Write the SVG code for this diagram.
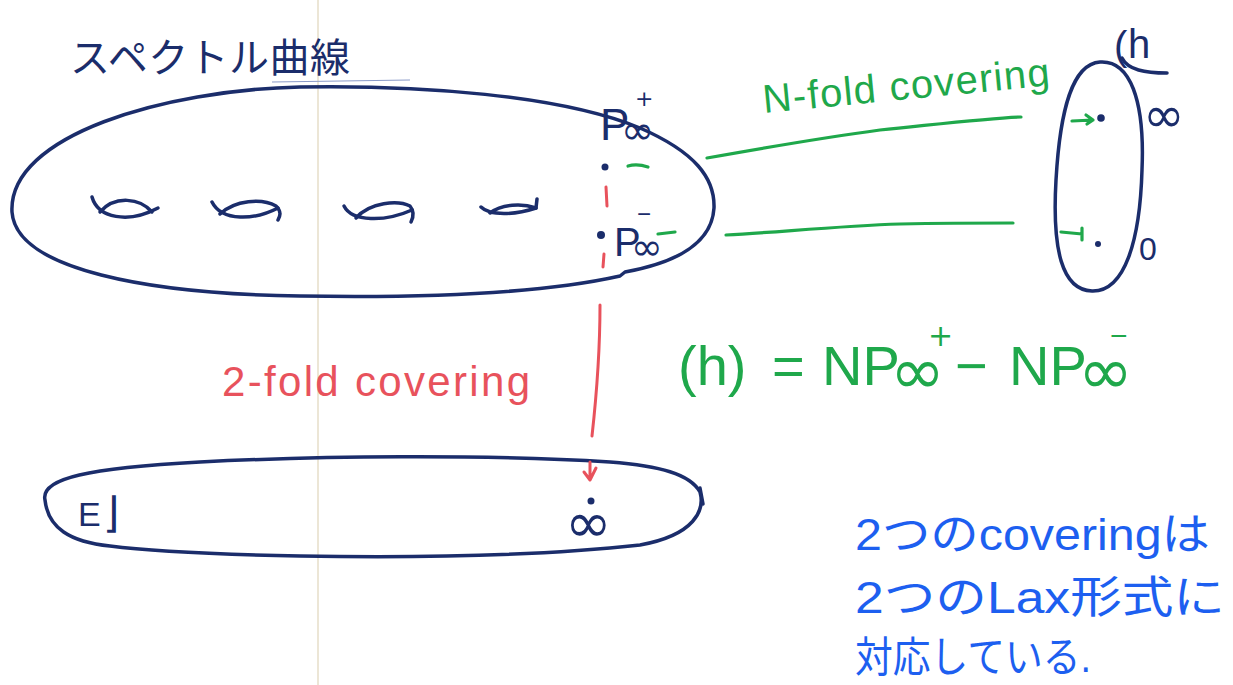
<svg xmlns="http://www.w3.org/2000/svg" width="1233" height="685" viewBox="0 0 1233 685">
<style>
.ink{fill:none;stroke:#1b2d6b;stroke-width:3.5;stroke-linecap:round;stroke-linejoin:round}
.g{fill:none;stroke:#1fa84b;stroke-width:3.2;stroke-linecap:round;stroke-linejoin:round}
.r{fill:none;stroke:#e8525c;stroke-width:3;stroke-linecap:round;stroke-linejoin:round}
.dot{fill:#1b2d6b}
.tn{font-family:"Liberation Sans","Noto Sans CJK JP",sans-serif;fill:#1b2d6b}
.tg{font-family:"Liberation Sans",sans-serif;fill:#1fa84b}
.tr{font-family:"Liberation Sans",sans-serif;fill:#e8525c}
.tb{font-family:"Liberation Sans","Noto Sans CJK JP",sans-serif;fill:#1d5ff0}
.inf{font-family:"DejaVu Sans",sans-serif}
</style>
<rect width="1233" height="685" fill="#ffffff"/>
<line x1="318" y1="0" x2="318" y2="685" stroke="#ece6d6" stroke-width="2"/>

<g id="spectral-curve">
  <text class="tn" x="70" y="72" font-size="40" font-family="Noto Sans CJK JP" textLength="280">スペクトル曲線</text>
  <path d="M272,82 L410,80" fill="none" stroke="#8a9ac8" stroke-width="1.2"/>
  <path class="ink" d="M12,212 C8,135 165,90 300,87 C420,85 560,95 640,128 C695,152 715,178 714,208 C712,242 680,262 625,272 L620,276 C540,294 420,298 300,296 C150,294 16,270 12,212 Z"/>
  <g id="holes">
    <path class="ink" d="M92,197 C98,218 128,224 158,208"/>
    <path class="ink" d="M100,212 C115,195 140,198 152,212"/>
    <path class="ink" d="M212,202 C222,222 255,220 278,208"/>
    <path class="ink" d="M220,214 C235,200 262,198 276,206 C282,212 280,216 278,220"/>
    <path class="ink" d="M344,206 C352,222 385,222 412,210"/>
    <path class="ink" d="M356,218 C370,202 398,200 410,206 C415,212 413,218 411,222"/>
    <path class="ink" d="M481,207 C490,216 515,215 536,208"/>
    <path class="ink" d="M490,213 C502,204 522,203 536,208 L537,199"/>
  </g>
  <circle class="dot" cx="605" cy="167" r="3.5"/>
  <circle class="dot" cx="601" cy="235" r="4"/>
  <text class="tn" font-size="44"><tspan x="600" y="140">P</tspan><tspan class="inf" x="621" y="144" font-size="40">∞</tspan><tspan class="inf" x="635" y="106" font-size="22">+</tspan></text>
  <text class="tn" font-size="40"><tspan x="614" y="256">P</tspan><tspan class="inf" x="631" y="260" font-size="38">∞</tspan><tspan x="637" y="222" font-size="24">−</tspan></text>
</g>

<g id="h-sphere">
  <path class="ink" d="M1100,62 C1130,60 1145,100 1142,170 C1140,240 1125,292 1092,291 C1062,290 1052,250 1056,180 C1060,110 1072,64 1100,62 Z"/>
  <circle class="dot" cx="1101" cy="118" r="3.8"/>
  <circle class="dot" cx="1098" cy="244" r="3"/>
  <text class="tn" font-size="40"><tspan x="1114" y="60">(</tspan><tspan x="1128" y="58">h</tspan></text>
  <path class="ink" d="M1122,58 C1128,70 1145,73 1167,73" stroke-width="2.5"/>
  <text class="tn inf" x="1143" y="132" font-size="50">∞</text>
  <text class="tn" x="1139" y="260" font-size="32">0</text>
</g>

<g id="elliptic-curve">
  <path class="ink" d="M45,500 C40,478 90,468 200,462 C320,456 480,454 610,462 C660,466 690,474 700,492 C705,510 695,535 640,545 C540,556 420,558 300,556 C200,554 140,550 110,546 C70,542 48,528 45,500 Z"/>
  <path class="ink" d="M700,488 L703,504" stroke-width="3"/>
  <text class="tn" font-size="34"><tspan x="78" y="526">E</tspan><tspan class="inf" x="103" y="527" font-size="42">⌋</tspan></text>
  <circle class="dot" cx="591" cy="501" r="3.5"/>
  <text class="tn inf" x="565" y="542" font-size="56">∞</text>
</g>

<g id="connectors">
  <path class="g" d="M707,158 C780,145 820,138 880,130 C940,124 990,118 1021,117"/>
  <path class="g" d="M726,235 C780,232 840,226 900,224 C950,223 990,223 1013,223"/>
  <path class="g" d="M628,166 C635,164 642,165 648,167"/>
  <path class="g" d="M658,234 L675,232"/>
  <path class="g" d="M1072,121 L1093,120 M1086,115 L1093,120 L1087,124"/>
  <path class="g" d="M1061,232 L1082,234 M1082,228 L1082,240"/>
  <path class="r" d="M606,187 L607,206"/>
  <path class="r" d="M604,254 L603,267"/>
  <path class="r" d="M600,305 C600,350 596,400 592,436"/>
  <path class="r" d="M590,462 L590,479 M584,472 L590,480 L596,468"/>
</g>

<g id="labels">
  <text class="tg" x="764" y="113" font-size="40" textLength="288" transform="rotate(-5.5 764 113)">N-fold covering</text>
  <text class="tr" x="222" y="396" font-size="42" textLength="308">2-fold covering</text>
  <text id="divisor" class="tg" font-size="56"><tspan x="678" y="385">(h)</tspan><tspan x="772" y="385">=</tspan><tspan x="822" y="385">NP</tspan><tspan class="inf" x="890" y="394" font-size="66">∞</tspan><tspan class="inf" x="928" y="346" font-size="30">+</tspan><tspan x="955" y="385">−</tspan><tspan x="1009" y="385">NP</tspan><tspan class="inf" x="1078" y="394" font-size="66">∞</tspan><tspan x="1110" y="346" font-size="30">−</tspan></text>
  <text class="tb" x="855" y="550" font-size="44" textLength="355" lengthAdjust="spacingAndGlyphs">2つのcoveringは</text>
  <text class="tb" x="855" y="613" font-size="44" textLength="370" lengthAdjust="spacingAndGlyphs">2つのLax形式に</text>
  <text class="tb" x="855" y="672" font-size="42" textLength="236" lengthAdjust="spacingAndGlyphs">対応している.</text>
</g>
</svg>
